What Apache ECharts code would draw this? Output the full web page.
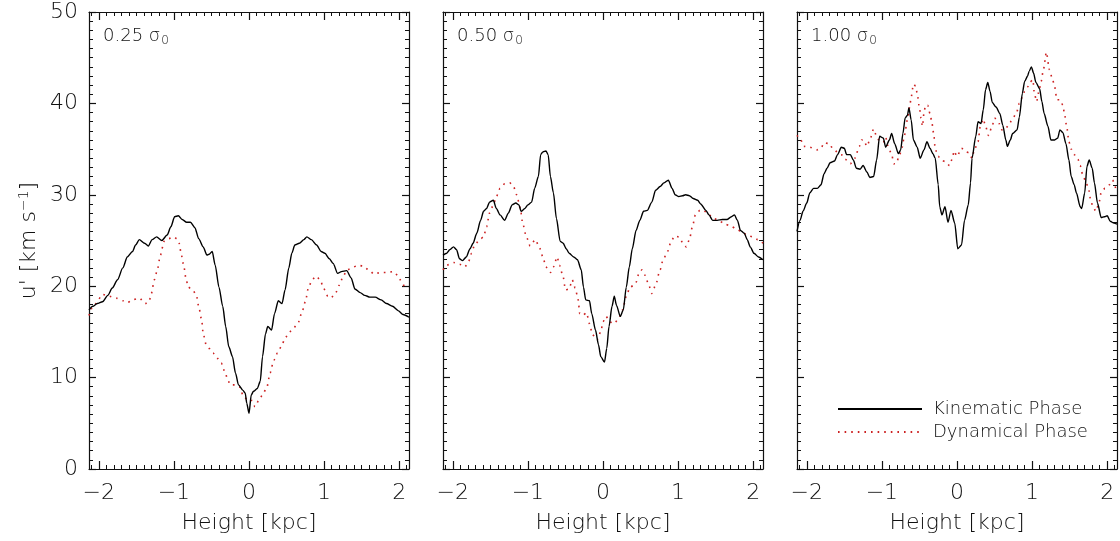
<!DOCTYPE html>
<html>
<head>
<meta charset="utf-8">
<title>u' vs height</title>
<script src="https://cdn.jsdelivr.net/npm/echarts@6/dist/echarts.min.js"></script>
<style>
  html, body { margin: 0; padding: 0; background: #fff; }
  #main { width: 1120px; height: 541px; }
</style>
</head>
<body>
<div id="main"></div>
<script>
// [height kpc, u' km/s]
const kin025 = [[-2.13,17.4],[-2.08,17.8],[-2.02,18.1],[-1.95,18.3],[-1.88,19.0],[-1.82,19.8],[-1.75,20.7],[-1.68,22.0],[-1.62,23.2],[-1.55,23.8],[-1.51,24.5],[-1.46,25.1],[-1.39,24.7],[-1.34,24.4],[-1.29,25.1],[-1.23,25.4],[-1.16,25.0],[-1.09,25.6],[-1.04,26.5],[-0.99,27.6],[-0.94,27.7],[-0.89,27.3],[-0.83,27.0],[-0.78,27.0],[-0.72,26.4],[-0.67,25.2],[-0.61,24.3],[-0.56,23.4],[-0.53,23.5],[-0.49,23.8],[-0.45,22.3],[-0.40,19.9],[-0.35,17.8],[-0.31,15.6],[-0.27,13.4],[-0.22,12.3],[-0.18,10.5],[-0.14,9.2],[-0.08,8.6],[-0.05,8.3],[-0.03,7.2],[0.00,6.1],[0.03,8.1],[0.06,8.5],[0.11,8.8],[0.15,9.6],[0.18,12.3],[0.22,14.8],[0.25,15.6],[0.30,15.2],[0.34,17.0],[0.39,18.4],[0.44,18.1],[0.48,19.6],[0.53,22.0],[0.57,23.6],[0.61,24.5],[0.67,24.7],[0.73,25.1],[0.77,25.4],[0.83,25.1],[0.90,24.5],[0.96,23.8],[1.01,23.6],[1.07,23.0],[1.12,22.5],[1.18,21.4],[1.23,21.6],[1.30,21.7],[1.36,20.9],[1.41,19.7],[1.48,19.3],[1.54,19.0],[1.61,18.8],[1.68,18.8],[1.76,18.5],[1.83,18.1],[1.91,17.8],[1.99,17.3],[2.05,16.9],[2.13,16.6]];
const dyn025 = [[-2.13,16.8],[-2.09,17.6],[-2.04,18.1],[-1.95,19.1],[-1.86,18.9],[-1.77,18.7],[-1.68,18.4],[-1.62,18.2],[-1.55,18.5],[-1.46,18.7],[-1.38,18.1],[-1.33,18.3],[-1.30,19.2],[-1.26,20.7],[-1.22,21.8],[-1.18,23.4],[-1.13,24.9],[-1.07,25.2],[-1.00,25.4],[-0.96,25.2],[-0.93,24.7],[-0.90,23.4],[-0.87,22.3],[-0.84,20.9],[-0.81,19.9],[-0.75,19.6],[-0.70,19.0],[-0.67,17.8],[-0.63,16.3],[-0.61,14.8],[-0.57,13.6],[-0.53,13.2],[-0.48,12.7],[-0.42,12.1],[-0.37,11.6],[-0.32,10.6],[-0.28,9.7],[-0.25,9.2],[-0.18,9.2],[-0.13,9.0],[-0.07,7.9],[-0.01,7.5],[0.04,7.5],[0.08,6.8],[0.13,7.5],[0.18,8.1],[0.24,9.0],[0.28,10.5],[0.33,11.9],[0.38,12.7],[0.43,13.4],[0.48,14.3],[0.53,14.9],[0.59,15.4],[0.65,15.9],[0.70,17.0],[0.75,18.3],[0.79,19.8],[0.84,20.7],[0.89,21.1],[0.95,20.7],[0.99,19.8],[1.05,18.9],[1.09,18.7],[1.15,19.2],[1.20,20.1],[1.26,21.2],[1.31,21.8],[1.39,22.1],[1.45,22.3],[1.52,22.2],[1.59,21.8],[1.67,21.3],[1.74,21.5],[1.83,21.5],[1.92,21.6],[1.98,21.2],[2.03,20.5],[2.07,20.0],[2.13,19.9]];

const kin050 = [[-2.13,23.4],[-2.08,23.6],[-2.04,24.0],[-1.99,24.3],[-1.95,24.0],[-1.91,23.0],[-1.87,22.8],[-1.82,23.2],[-1.77,24.1],[-1.73,24.7],[-1.68,25.8],[-1.63,27.2],[-1.59,28.2],[-1.55,28.5],[-1.51,29.2],[-1.46,29.4],[-1.42,28.5],[-1.37,27.8],[-1.31,27.2],[-1.26,28.0],[-1.21,28.9],[-1.16,29.1],[-1.12,28.9],[-1.09,28.2],[-1.04,28.5],[-1.00,28.9],[-0.95,29.2],[-0.91,30.7],[-0.86,32.0],[-0.83,34.4],[-0.80,34.7],[-0.76,34.8],[-0.73,34.4],[-0.70,32.0],[-0.66,30.2],[-0.62,27.4],[-0.57,24.9],[-0.53,24.7],[-0.49,24.1],[-0.45,23.6],[-0.39,23.2],[-0.34,22.9],[-0.29,21.8],[-0.26,19.9],[-0.23,18.5],[-0.18,18.4],[-0.15,17.0],[-0.10,15.2],[-0.06,13.6],[-0.03,12.3],[0.02,11.7],[0.05,13.2],[0.08,15.6],[0.12,17.8],[0.15,18.9],[0.18,17.9],[0.23,16.7],[0.27,17.4],[0.31,19.9],[0.35,22.1],[0.39,24.1],[0.44,26.1],[0.49,27.2],[0.54,28.2],[0.59,28.3],[0.65,29.2],[0.70,30.5],[0.76,30.9],[0.81,31.3],[0.87,31.6],[0.92,30.7],[0.96,30.0],[1.01,29.8],[1.06,29.9],[1.10,30.0],[1.15,29.9],[1.20,29.6],[1.26,29.4],[1.30,29.0],[1.37,28.3],[1.41,27.8],[1.46,27.2],[1.52,27.2],[1.59,27.3],[1.65,27.3],[1.71,27.6],[1.75,27.8],[1.79,27.2],[1.83,26.1],[1.88,25.8],[1.92,25.1],[1.96,24.3],[2.01,23.6],[2.07,23.2],[2.13,22.9]];
const dyn050 = [[-2.13,21.8],[-2.08,22.3],[-1.99,22.6],[-1.91,22.4],[-1.84,22.1],[-1.79,22.7],[-1.75,23.6],[-1.71,24.5],[-1.64,25.1],[-1.59,25.4],[-1.55,26.5],[-1.51,28.0],[-1.46,28.9],[-1.42,29.8],[-1.37,30.7],[-1.31,31.2],[-1.24,31.3],[-1.19,30.9],[-1.15,30.0],[-1.10,28.5],[-1.07,26.9],[-1.02,25.4],[-0.97,24.4],[-0.90,25.1],[-0.85,24.3],[-0.80,23.2],[-0.76,22.1],[-0.70,21.5],[-0.66,22.1],[-0.61,23.2],[-0.58,22.3],[-0.53,21.0],[-0.50,19.6],[-0.45,19.7],[-0.41,20.7],[-0.37,19.8],[-0.33,18.5],[-0.31,17.0],[-0.27,16.8],[-0.22,17.1],[-0.18,15.9],[-0.14,14.7],[-0.08,14.1],[-0.03,15.0],[0.00,16.1],[0.04,16.7],[0.09,16.1],[0.15,15.9],[0.21,16.5],[0.26,17.4],[0.31,18.9],[0.36,19.9],[0.43,20.2],[0.48,21.4],[0.52,21.8],[0.56,21.2],[0.61,20.1],[0.65,19.2],[0.70,20.1],[0.76,21.8],[0.80,22.9],[0.85,23.6],[0.90,24.7],[0.95,25.5],[1.01,25.4],[1.06,24.8],[1.11,24.3],[1.15,25.1],[1.19,26.5],[1.23,27.8],[1.29,28.3],[1.34,28.3],[1.41,27.8],[1.48,27.4],[1.54,27.2],[1.62,26.8],[1.70,26.6],[1.77,26.3],[1.84,26.0],[1.92,25.6],[1.99,25.4],[2.06,25.1],[2.13,24.7]];

const kin100 = [[-2.13,26.0],[-2.09,27.2],[-2.05,28.2],[-2.00,29.1],[-1.96,30.2],[-1.91,30.7],[-1.86,30.7],[-1.81,31.1],[-1.77,32.3],[-1.73,32.9],[-1.69,33.5],[-1.63,33.7],[-1.59,34.4],[-1.54,35.2],[-1.50,35.1],[-1.47,34.4],[-1.42,34.4],[-1.38,33.8],[-1.34,32.9],[-1.29,32.8],[-1.25,33.2],[-1.20,32.5],[-1.16,31.9],[-1.11,32.0],[-1.07,33.8],[-1.03,36.4],[-0.98,36.2],[-0.95,35.2],[-0.90,36.0],[-0.87,36.7],[-0.83,35.6],[-0.78,34.5],[-0.75,34.9],[-0.72,36.7],[-0.69,38.4],[-0.66,38.7],[-0.64,39.5],[-0.61,38.2],[-0.58,36.0],[-0.53,35.2],[-0.49,34.0],[-0.44,34.9],[-0.40,35.8],[-0.36,35.1],[-0.32,34.5],[-0.29,34.0],[-0.25,31.1],[-0.23,28.7],[-0.20,27.8],[-0.16,28.7],[-0.12,27.0],[-0.08,28.3],[-0.03,26.9],[0.01,24.1],[0.06,24.5],[0.10,27.2],[0.15,28.9],[0.18,31.3],[0.20,34.0],[0.25,36.4],[0.28,38.0],[0.32,37.8],[0.35,39.3],[0.38,41.5],[0.41,42.3],[0.44,41.3],[0.47,40.1],[0.52,39.6],[0.57,38.9],[0.61,37.6],[0.65,36.0],[0.67,35.3],[0.71,36.0],[0.74,36.7],[0.80,37.1],[0.83,38.5],[0.87,41.1],[0.90,42.4],[0.94,43.0],[0.96,43.5],[0.99,44.0],[1.02,43.3],[1.05,42.3],[1.10,41.6],[1.13,40.2],[1.16,38.9],[1.21,37.5],[1.25,36.0],[1.30,36.0],[1.34,36.2],[1.37,37.1],[1.41,36.8],[1.45,35.6],[1.49,33.8],[1.52,32.0],[1.56,31.1],[1.59,30.2],[1.64,28.7],[1.66,28.5],[1.70,30.2],[1.73,33.1],[1.76,33.8],[1.80,32.9],[1.83,31.3],[1.87,29.1],[1.92,27.5],[1.96,27.6],[2.00,27.7],[2.04,27.1],[2.09,26.9],[2.13,26.8]];
const dyn100 = [[-2.13,36.5],[-2.08,36.0],[-2.04,35.3],[-1.96,35.2],[-1.87,34.9],[-1.81,35.1],[-1.77,35.7],[-1.70,35.6],[-1.65,35.0],[-1.58,34.6],[-1.54,34.4],[-1.49,33.9],[-1.42,33.4],[-1.36,34.0],[-1.30,35.3],[-1.27,36.0],[-1.24,36.0],[-1.20,35.3],[-1.16,36.0],[-1.11,37.2],[-1.07,36.4],[-1.03,35.8],[-0.98,35.8],[-0.95,36.3],[-0.92,35.4],[-0.87,34.4],[-0.84,33.4],[-0.81,33.4],[-0.77,34.2],[-0.73,35.2],[-0.70,36.5],[-0.66,38.2],[-0.63,39.6],[-0.61,40.7],[-0.58,42.1],[-0.55,41.9],[-0.53,41.1],[-0.50,39.5],[-0.48,38.4],[-0.46,37.5],[-0.44,38.9],[-0.42,39.8],[-0.39,39.8],[-0.36,38.9],[-0.34,38.2],[-0.31,36.7],[-0.29,35.0],[-0.25,34.2],[-0.21,33.8],[-0.15,33.6],[-0.10,33.2],[-0.06,34.0],[-0.04,34.8],[0.00,34.2],[0.06,35.1],[0.12,34.7],[0.16,34.6],[0.20,34.0],[0.23,34.9],[0.28,35.8],[0.31,37.5],[0.35,38.3],[0.38,37.5],[0.42,36.5],[0.47,37.6],[0.50,38.4],[0.56,37.8],[0.60,37.1],[0.63,37.1],[0.69,37.6],[0.73,38.2],[0.79,38.9],[0.83,40.0],[0.87,40.7],[0.90,41.3],[0.94,41.8],[0.97,42.3],[1.01,42.6],[1.03,41.1],[1.06,40.2],[1.09,41.3],[1.12,42.4],[1.15,43.7],[1.19,45.6],[1.23,43.7],[1.27,42.7],[1.30,41.8],[1.33,40.4],[1.37,40.4],[1.41,39.8],[1.43,38.9],[1.46,37.5],[1.49,35.8],[1.52,35.0],[1.56,34.4],[1.61,33.9],[1.64,33.2],[1.67,32.3],[1.72,31.3],[1.75,30.7],[1.78,29.4],[1.81,28.7],[1.85,28.2],[1.89,29.1],[1.92,30.3],[1.97,30.7],[2.03,31.1],[2.07,31.6],[2.12,30.5]];

const panelLabels = ['0.25', '0.50', '1.00'];
const xTicks = [-2, -1, 0, 1, 2];
const X_MIN = -2.13, X_MAX = 2.13;

const panels = [
    { label: panelLabels[0], kin: kin025, dyn: dyn025 },
    { label: panelLabels[1], kin: kin050, dyn: dyn050 },
    { label: panelLabels[2], kin: kin100, dyn: dyn100 }
];

// minor ticks every 0.1 kpc
const xMinor = [];
for (let v = -21; v <= 21; v++) xMinor.push(v / 10);

const FONT = 'DejaVu Sans';
const INK = '#111';
const RED = '#cc2222';

const grids = [], xAxes = [], yAxes = [], series = [], titles = [];

panels.forEach((p, i) => {
    const left = 89 + 354 * i;
    grids.push({ left: left, top: 12, width: 320, height: 457 });

    const baseX = {
        gridIndex: i, type: 'value', min: X_MIN, max: X_MAX,
        splitLine: { show: false },
        axisLine: { onZero: false, show: true, lineStyle: { color: INK, width: 1.2 } },
        axisLabel: { show: false }
    };
    // bottom major
    xAxes.push(Object.assign({}, baseX, {
        position: 'bottom',
        axisTick: { inside: true, length: 8, customValues: xTicks, lineStyle: { color: INK, width: 1.2 } },
        axisLabel: {
            show: true, customValues: xTicks, margin: 13,
            fontFamily: FONT, fontSize: 22, fontWeight: 200, color: INK,
            formatter: v => String(v).replace('-', '\u2212')
        },
        name: 'Height [kpc]', nameLocation: 'middle', nameGap: 43,
        nameTextStyle: { fontFamily: FONT, fontSize: 22, fontWeight: 200, color: INK }
    }));
    // bottom minor
    xAxes.push(Object.assign({}, baseX, {
        position: 'bottom', axisLine: { show: false, onZero: false },
        axisTick: { inside: true, length: 4, customValues: xMinor, lineStyle: { color: INK, width: 1 } }
    }));
    // top major
    xAxes.push(Object.assign({}, baseX, {
        position: 'top',
        axisTick: { inside: true, length: 8, customValues: xTicks, lineStyle: { color: INK, width: 1.2 } }
    }));
    // top minor
    xAxes.push(Object.assign({}, baseX, {
        position: 'top', axisLine: { show: false, onZero: false },
        axisTick: { inside: true, length: 4, customValues: xMinor, lineStyle: { color: INK, width: 1 } }
    }));

    const baseY = {
        gridIndex: i, type: 'value', min: 0, max: 50, interval: 10,
        splitLine: { show: false },
        axisLine: { onZero: false, show: true, lineStyle: { color: INK, width: 1.2 } },
        axisTick: { inside: true, length: 7, lineStyle: { color: INK, width: 1.2 } },
        minorTick: { show: true, splitNumber: 10, length: 4, lineStyle: { color: INK, width: 1 } },
        axisLabel: { show: false }
    };
    const leftY = Object.assign({}, baseY, { position: 'left' });
    if (i === 0) {
        leftY.axisLabel = { show: true, margin: 11, fontFamily: FONT, fontSize: 22, fontWeight: 200, color: INK };
        leftY.name = "u' [km s{sup|\u22121}]";
        leftY.nameLocation = 'middle';
        leftY.nameGap = 48;
        leftY.nameTextStyle = {
            fontFamily: FONT, fontSize: 22, fontWeight: 200, color: INK,
            rich: { sup: { fontFamily: FONT, fontSize: 14, fontWeight: 200, color: INK, padding: [0, 0, 10, 0] } }
        };
    }
    yAxes.push(leftY);
    yAxes.push(Object.assign({}, baseY, { position: 'right' }));

    series.push({
        name: 'Kinematic Phase', type: 'line', xAxisIndex: 4 * i, yAxisIndex: 2 * i,
        data: p.kin, showSymbol: false, symbol: 'none', smooth: 0.25, smoothMonotone: 'x',
        lineStyle: { color: '#000', width: 1.4 }, itemStyle: { color: '#000' }, z: 3
    });
    series.push({
        name: 'Dynamical Phase', type: 'line', xAxisIndex: 4 * i, yAxisIndex: 2 * i,
        data: p.dyn, showSymbol: false, symbol: 'none', smooth: 0.25, smoothMonotone: 'x',
        lineStyle: { color: RED, width: 1.6, type: [1.6, 5] }, itemStyle: { color: RED }, z: 2
    });

    titles.push({
        left: left + 9, top: 21,
        text: '{a|' + p.label + ' \u03c3}{s|0}',
        textStyle: {
            rich: {
                a: { fontFamily: FONT, fontSize: 18, fontWeight: 200, color: INK },
                s: { fontFamily: FONT, fontSize: 12, fontWeight: 200, color: INK, padding: [9, 0, 0, 1] }
            }
        }
    });
});

const chart = echarts.init(document.getElementById('main'));
chart.setOption({
    animation: false,
    backgroundColor: '#fff',
    title: titles,
    grid: grids,
    xAxis: xAxes,
    yAxis: yAxes,
    legend: {
        data: ['Kinematic Phase', 'Dynamical Phase'],
        orient: 'vertical', left: 832, top: 395,
        itemWidth: 84, itemHeight: 14, itemGap: 5,
        selectedMode: false,
        itemStyle: { opacity: 0 },
        textStyle: { fontFamily: FONT, fontSize: 18, fontWeight: 200, color: INK, padding: [0, 0, 0, 6] }
    },
    series: series
});
</script>
</body>
</html>
